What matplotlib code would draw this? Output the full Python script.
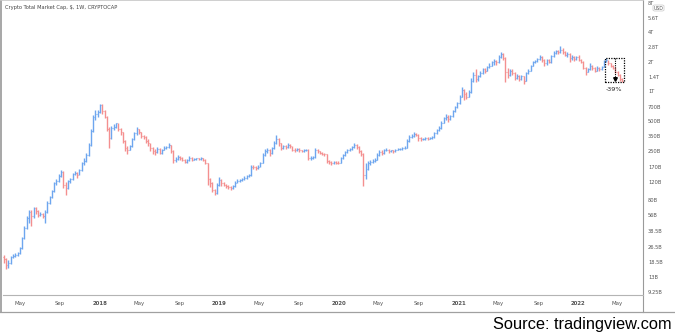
import matplotlib
matplotlib.use("Agg")
import matplotlib.pyplot as plt
import matplotlib.dates as mdates
import matplotlib.transforms as mtrans
from matplotlib.patches import Rectangle, FancyBboxPatch
import datetime as dt

# ---------------- data (weekly, values in billions USD) ----------------
first_week = dt.date(2017, 3, 13)
first_open = 21

close_a = [20, 17.5, 18.5, 21, 21.5, 22, 23, 26, 33, 42, 52, 60, 55, 66, 62, 57, 58, 55, 60, 75,
           85, 98, 120, 125, 140, 155, 115, 105, 125, 130, 148, 150, 145, 160, 190, 200, 230, 290,
           400, 560, 600, 620]
high_a = [22, 20.5, 19.5, 21.5, 22.5, 23, 24, 27, 34, 44, 55, 64, 63, 68, 68, 63, 61, 59, 63, 78,
          88, 102, 123, 132, 146, 162, 158, 122, 128, 135, 152, 158, 155, 165, 195, 215, 240, 300,
          420, 590, 650, 660]
low_a = [18.5, 16, 16.5, 18, 20.5, 21, 21.5, 22.5, 25.5, 32, 41, 47, 44, 53, 58, 54, 55, 52, 47, 59,
         73, 84, 96, 114, 122, 136, 105, 90, 103, 120, 128, 142, 135, 142, 158, 180, 195, 225,
         285, 390, 520, 560]

close_b = [740, 640, 560, 420, 340, 430, 440, 480, 420, 390, 320, 270, 260, 280, 330, 380, 420, 390,
           360, 350, 320, 300, 270, 250, 245, 265, 240, 260, 270, 275, 290, 250, 205, 210, 220, 215,
           205, 195, 205, 215, 205, 210, 212, 208, 212, 205, 190, 130, 120, 100, 95, 115]
high_b = [760, 750, 660, 570, 440, 450, 470, 490, 485, 430, 395, 325, 285, 290, 340, 390, 440, 425,
          395, 370, 355, 330, 305, 275, 265, 275, 270, 265, 280, 285, 300, 292, 255, 218, 228, 225,
          218, 208, 210, 222, 218, 215, 216, 215, 218, 214, 208, 192, 135, 122, 103, 120]
low_b = [610, 600, 540, 400, 270, 335, 410, 430, 400, 370, 300, 250, 235, 255, 275, 325, 370, 375,
         345, 330, 300, 285, 250, 235, 230, 240, 232, 235, 255, 262, 270, 240, 190, 195, 205, 205,
         198, 188, 192, 200, 200, 202, 205, 202, 205, 198, 185, 115, 108, 96, 90, 93]

close_c = [128, 118, 115, 110, 108, 105, 110, 120, 125, 128, 130, 135, 140, 142, 175, 172, 170, 175,
           190, 230, 250, 255, 240, 270, 300, 330, 300, 270, 280, 275, 290, 280, 260, 255, 265, 255,
           250, 258, 260, 215, 215, 220, 255, 250, 240, 235, 232, 200, 195, 190, 195, 192]
high_c = [138, 130, 122, 117, 113, 110, 113, 124, 130, 132, 134, 139, 144, 147, 182, 182, 178, 180,
          196, 240, 262, 270, 265, 278, 315, 365, 345, 305, 290, 290, 300, 295, 285, 268, 272, 268,
          260, 263, 266, 262, 222, 226, 272, 262, 254, 245, 240, 235, 206, 200, 200, 198]
low_c = [112, 112, 110, 105, 104, 100, 103, 108, 118, 122, 125, 128, 132, 136, 140, 165, 162, 166,
         172, 188, 225, 240, 225, 235, 265, 295, 280, 255, 262, 265, 270, 270, 252, 248, 250, 248,
         244, 246, 252, 205, 205, 210, 215, 240, 235, 230, 225, 190, 185, 180, 185, 186]

close_d = [190, 215, 230, 245, 255, 265, 275, 290, 275, 250, 235, 145, 165, 190, 195, 200, 205, 230,
           245, 240, 255, 260, 250, 255, 250, 260, 262, 262, 268, 272, 315, 350, 360, 375, 370, 340,
           330, 335, 340, 335, 340, 350, 380, 410, 430, 490, 540, 560, 530, 570, 640, 700]
high_d = [197, 220, 236, 250, 262, 272, 282, 300, 295, 280, 258, 240, 190, 198, 205, 208, 212, 240,
          258, 255, 262, 268, 265, 260, 260, 265, 268, 268, 274, 282, 330, 365, 375, 390, 385, 375,
          350, 345, 350, 348, 348, 360, 395, 425, 450, 510, 560, 600, 580, 590, 660, 720]
low_d = [184, 188, 210, 225, 240, 250, 260, 270, 265, 240, 222, 110, 130, 160, 182, 188, 195, 202,
         225, 228, 235, 250, 240, 245, 242, 246, 255, 256, 258, 264, 268, 310, 340, 352, 358, 320,
         318, 322, 328, 328, 330, 335, 345, 375, 400, 425, 480, 520, 500, 520, 560, 630]

close_e = [770, 900, 1050, 950, 900, 1000, 1300, 1500, 1350, 1450, 1550, 1700, 1650, 1800, 1850,
           2000, 2050, 2000, 2250, 2450, 2200, 1600, 1500, 1650, 1550, 1400, 1450, 1350, 1450, 1300,
           1550, 1650, 1850, 2000, 2050, 2150, 2250, 2100, 1950, 2100, 2000, 2300, 2500, 2600, 2550,
           2700, 2550, 2400, 2450, 2200, 2250, 2150]
high_e = [800, 930, 1120, 1080, 1000, 1050, 1380, 1600, 1700, 1500, 1620, 1760, 1750, 1850, 1950,
          2080, 2150, 2100, 2350, 2550, 2500, 2250, 1750, 1720, 1700, 1580, 1520, 1480, 1500, 1460,
          1600, 1720, 1900, 2060, 2130, 2200, 2350, 2300, 2150, 2150, 2150, 2350, 2600, 2700, 2700,
          2950, 2800, 2600, 2550, 2480, 2350, 2300]
low_e = [690, 760, 880, 830, 850, 880, 980, 1270, 1250, 1300, 1420, 1520, 1560, 1620, 1750,
         1820, 1900, 1900, 1980, 2200, 2100, 1250, 1400, 1450, 1480, 1320, 1370, 1300, 1320, 1200,
         1280, 1520, 1620, 1820, 1960, 2000, 2100, 2000, 1850, 1900, 1950, 1980, 2250, 2450, 2450,
         2500, 2450, 2300, 2250, 2000, 2100, 2080]

close_f = [2250, 2100, 2000, 1750, 1600, 1700, 1850, 1750, 1650, 1750, 1700, 1800, 2050, 2100, 1950,
           1850, 1750, 1600, 1500, 1350, 1300]
high_f = [2300, 2350, 2150, 2050, 1800, 1750, 1950, 1900, 1800, 1830, 1800, 1850, 2100, 2200, 2130,
          1980, 1880, 1780, 1630, 1520, 1400]
low_f = [2100, 2050, 1950, 1700, 1500, 1580, 1680, 1680, 1580, 1620, 1640, 1680, 1780, 2000, 1900,
         1780, 1700, 1550, 1450, 1280, 1270]

y_ticks = [8000, 5600, 4000, 2800, 2000, 1400, 1000, 700, 500, 350, 250, 170, 120, 80, 56, 38.5,
           26.5, 18.5, 13, 9.25]
y_labels = ["8T", "5.6T", "4T", "2.8T", "2T", "1.4T", "1T", "700B", "500B", "350B", "250B", "170B",
            "120B", "80B", "56B", "38.5B", "26.5B", "18.5B", "13B", "9.25B"]
x_tick_dates = ["2017-05-01", "2017-09-01", "2018-01-01", "2018-05-01", "2018-09-01", "2019-01-01",
                "2019-05-01", "2019-09-01", "2020-01-01", "2020-05-01", "2020-09-01", "2021-01-01",
                "2021-05-01", "2021-09-01", "2022-01-01", "2022-05-01"]
x_tick_labels = ["May", "Sep", "2018", "May", "Sep", "2019", "May", "Sep", "2020", "May", "Sep",
                 "2021", "May", "Sep", "2022", "May"]
title = "Crypto Total Market Cap, $, 1W, CRYPTOCAP"
change_label = "-39%"
box_first_bar = 263
source = "Source: tradingview.com"

# ---------------- assemble ----------------
closes = close_a + close_b + close_c + close_d + close_e + close_f
highs = high_a + high_b + high_c + high_d + high_e + high_f
lows = low_a + low_b + low_c + low_d + low_e + low_f
opens = [first_open] + closes[:-1]
n = len(closes)
xd = mdates.date2num([first_week + dt.timedelta(weeks=i) for i in range(n)])

W, H = 675, 333
fig = plt.figure(figsize=(W / 100, H / 100), dpi=100)
fig.patch.set_facecolor("white")


def fx(px):
    return px / W


def fy(py):
    return 1 - py / H


ax = fig.add_axes([fx(3), fy(295), fx(643) - fx(3), fy(0) - fy(295)])
ax.set_yscale("log")
base = mdates.date2num(dt.date(2018, 1, 1))
ax.set_xlim(base - 296.5, base + 1659.5)
ax.set_ylim(8.69, 8590)
for s in ax.spines.values():
    s.set_visible(False)
ax.set_xticks([])
ax.set_yticks([])
ax.minorticks_off()
ax.yaxis.set_minor_locator(matplotlib.ticker.NullLocator())

blue = "#6ea6ef"
red = "#f48f8f"
cols = [blue if c >= o else red for o, c in zip(opens, closes)]
ax.vlines(xd, lows, highs, colors=cols, lw=1.0)
ax.hlines(opens, xd - 2.4, xd, colors=cols, lw=0.8)
ax.hlines(closes, xd, xd + 2.4, colors=cols, lw=0.8)

# annotation box
bx0 = xd[box_first_bar] - 3
bx1 = xd[-1] + 4
top = max(highs[box_first_bar:])
bot = min(lows[box_first_bar:])
ax.add_patch(Rectangle((bx0, bot), bx1 - bx0, top - bot, fill=False, ec="black",
                       lw=0.9, ls=(0, (1, 1)), zorder=5))
xm = xd[box_first_bar + 4]
ax.plot([xm, xm], [top, bot * 1.07], color="black", lw=0.8, ls=(0, (1, 1)), zorder=5)
ax.plot([xm], [bot * 1.07], marker="v", color="black", ms=2.6, zorder=6)
ax.text((bx0 + bx1) / 2, bot / 1.12, change_label, ha="center", va="top", fontsize=4.6,
        color="#222222", zorder=6)

# frame lines
gray = "#b4b4b4"
fig.add_artist(plt.Line2D([fx(643), fx(643)], [fy(0), fy(312)], color="#9a9a9a", lw=0.8))
fig.add_artist(plt.Line2D([fx(3), fx(643)], [fy(295), fy(295)], color=gray, lw=0.8))
fig.add_artist(plt.Line2D([fx(0.8), fx(0.8)], [fy(0), fy(312)], color="#a0a0a0", lw=1.3))
fig.add_artist(plt.Line2D([fx(0), fx(675)], [fy(311.5), fy(311.5)], color="#a0a0a0", lw=0.9))
fig.add_artist(plt.Line2D([fx(0), fx(643)], [fy(0.3), fy(0.3)], color="#c8c8c8", lw=0.6))

# title
fig.text(fx(5), fy(8), title, fontsize=3.7, color="#444444", va="center", ha="left")

# y labels
ytr = mtrans.blended_transform_factory(fig.transFigure, ax.transData)
for v, lab in zip(y_ticks, y_labels):
    ax.text(fx(648), v, lab, transform=ytr, fontsize=3.7, color="#555555", va="center",
            ha="left", clip_on=False)
# USD box
fig.add_artist(FancyBboxPatch((fx(653), fy(11)), fx(11), fy(5) - fy(11),
                              boxstyle="round,pad=0,rounding_size=0.003", fc="white",
                              ec="#c8c8c8", lw=0.5))
fig.text(fx(658.5), fy(8), "USD", fontsize=3.3, color="#555555", ha="center", va="center")

# x labels
xtr = mtrans.blended_transform_factory(ax.transData, fig.transFigure)
for d, lab in zip(x_tick_dates, x_tick_labels):
    xv = mdates.date2num(dt.date.fromisoformat(d))
    bold = lab.isdigit()
    ax.text(xv, fy(303.5), lab, transform=xtr, fontsize=3.9, color="#555555", ha="center",
            va="center", fontweight="bold" if bold else "normal", clip_on=False)

# source
fig.text(fx(672), fy(328.5), source, fontsize=11.8, family="Liberation Sans", color="black",
         ha="right", va="baseline")

fig.savefig("out.png", dpi=100)
